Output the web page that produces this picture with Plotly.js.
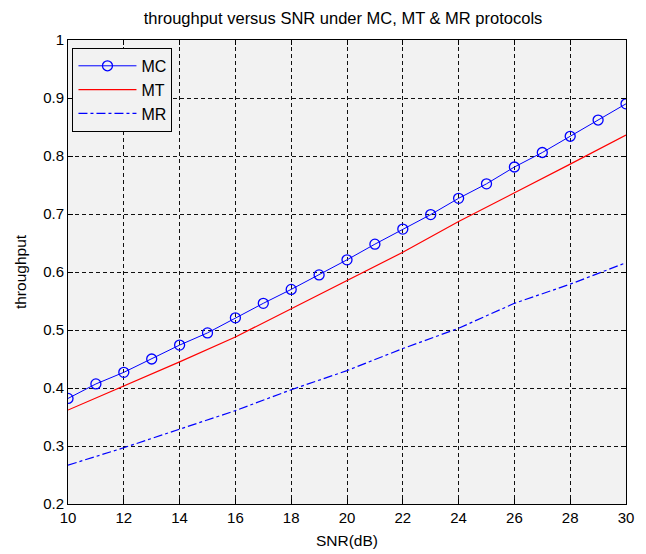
<!DOCTYPE html>
<html><head><meta charset="utf-8">
<script src="https://cdn.plot.ly/plotly-3.0.1.min.js"></script>
<style>html,body{margin:0;padding:0;background:#fff;}</style>
</head><body>
<div id="chart" style="width:646px;height:554px;"></div>
<script>
const snrMC = [10,11,12,13,14,15,16,17,18,19,20,21,22,23,24,25,26,27,28,29,30];
const mcValues = [0.382,0.407,0.427,0.450,0.474,0.495,0.521,0.546,0.570,0.595,0.621,0.648,0.674,0.699,0.727,0.752,0.781,0.806,0.834,0.862,0.890];
const snrLines = [10,12,14,16,18,20,22,24,26,28,30];
const mtValues = [0.362,0.403,0.445,0.488,0.537,0.585,0.634,0.687,0.736,0.786,0.836];
const mrValues = [0.267,0.297,0.329,0.361,0.397,0.430,0.468,0.503,0.546,0.579,0.616];
const xTicks = [10,12,14,16,18,20,22,24,26,28,30];
const yTicks = [0.2,0.3,0.4,0.5,0.6,0.7,0.8,0.9,1];
const yTickText = ['0.2','0.3','0.4','0.5','0.6','0.7','0.8','0.9','1'];

const traces = [
  {x: snrMC, y: mcValues, name: 'MC', legendgroup: 'a', mode: 'lines+markers', type: 'scatter',
   line: {color: '#0000ff', width: 1},
   marker: {symbol: 'circle-open', size: 10, color: '#0000ff', line: {width: 1.3, color: '#0000ff'}}},
  {x: snrLines, y: mtValues, name: 'MT', legendgroup: 'b', mode: 'lines', type: 'scatter',
   line: {color: '#ff0000', width: 1.2}},
  {x: snrLines, y: mrValues, name: 'MR', legendgroup: 'c', mode: 'lines', type: 'scatter',
   line: {color: '#0000ff', width: 1.2, dash: 'dashdot'}}
];

const axisCommon = {
  showline: true, linecolor: '#000', linewidth: 1, mirror: 'ticks',
  ticks: 'inside', ticklen: 5, tickcolor: '#000', tickwidth: 1,
  showgrid: true, gridcolor: '#111', gridwidth: 1, griddash: '4px,3px',
  zeroline: false,
  tickfont: {family: 'Liberation Sans, Arial, sans-serif', size: 15, color: '#000'}
};

const layout = {
  width: 646, height: 554,
  margin: {l: 68, r: 20, t: 40, b: 50},
  paper_bgcolor: '#ffffff',
  plot_bgcolor: '#f2f2f2',
  font: {family: 'Liberation Sans, Arial, sans-serif', size: 15, color: '#000'},
  title: {text: 'throughput versus SNR under MC, MT &amp; MR protocols',
          font: {size: 16.5, color: '#000'}, x: 0.531, xanchor: 'center', y: 0.967, yanchor: 'middle'},
  xaxis: Object.assign({}, axisCommon, {
    range: [10, 30], tickvals: xTicks, ticktext: xTicks.map(String),
    title: {text: 'SNR(dB)', font: {size: 15.5}, standoff: 10}
  }),
  yaxis: Object.assign({}, axisCommon, {
    range: [0.2, 1], tickvals: yTicks, ticktext: yTickText,
    title: {text: 'throughput', font: {size: 15.5}, standoff: 12}
  }),
  showlegend: true,
  legend: {x: 0.008, y: 0.983, xanchor: 'left', yanchor: 'top',
           bgcolor: '#f2f2f2', bordercolor: '#000', borderwidth: 1,
           font: {size: 16, color: '#000'}, tracegroupgap: 0, itemwidth: 58}
};

Plotly.newPlot('chart', traces, layout, {displayModeBar: false, staticPlot: true});
</script>
</body></html>
